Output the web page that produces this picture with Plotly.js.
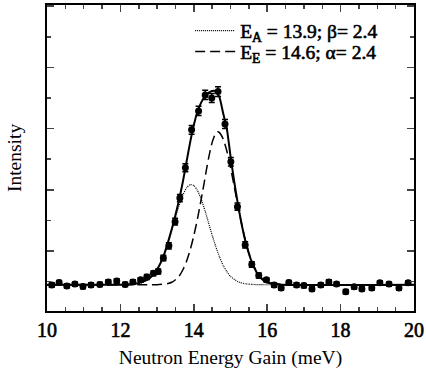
<!DOCTYPE html>
<html>
<head>
<meta charset="utf-8">
<script src="https://cdn.plot.ly/plotly-3.0.1.min.js"></script>
<style>
html,body{margin:0;padding:0;background:#fff;}
#chart{width:426px;height:372px;}
#chart .xtick text, #chart .legendtext, #chart g[class*="legend"] text { stroke: #000; stroke-width: 0.6px; paint-order: stroke; }
</style>
</head>
<body>
<div id="chart"></div>
<script>
// Measured data (neutron energy gain in meV, intensity in arbitrary units)
const dataX = [10.13,10.33,10.54,10.76,10.98,11.20,11.44,11.67,11.90,12.13,12.34,12.55,12.72,12.90,13.03,13.17,13.32,13.49,13.62,13.77,13.94,14.13,14.31,14.49,14.66,14.85,15.01,15.19,15.40,15.58,15.77,15.98,16.19,16.38,16.59,16.80,17.00,17.22,17.46,17.68,17.89,18.14,18.37,18.58,18.85,19.07,19.32,19.59,19.84];
const dataY = [-0.11,-0.03,-0.14,-0.08,-0.16,-0.11,-0.09,-0.01,0.02,-0.09,-0.01,0.06,0.15,0.27,0.33,0.77,1.17,1.96,2.73,3.72,4.96,5.58,6.10,6.00,6.21,5.15,3.92,2.45,1.20,0.56,0.20,0.06,-0.11,-0.21,-0.03,-0.11,-0.13,-0.24,-0.11,-0.01,-0.08,-0.33,-0.17,-0.24,-0.21,-0.04,-0.08,-0.21,-0.04];
const dataErr = [0.07,0.07,0.07,0.07,0.07,0.07,0.07,0.07,0.07,0.07,0.07,0.07,0.08,0.08,0.08,0.09,0.10,0.11,0.12,0.13,0.14,0.15,0.15,0.15,0.16,0.15,0.14,0.12,0.10,0.09,0.08,0.07,0.07,0.07,0.07,0.07,0.07,0.07,0.07,0.07,0.07,0.07,0.07,0.07,0.07,0.07,0.07,0.07,0.07];

// Total fit curve
const fitX = [10.0,12.0,12.2,12.4,12.6,12.8,13.0,13.1,13.2,13.3,13.4,13.5,13.6,13.7,13.8,13.9,14.0,14.1,14.2,14.3,14.4,14.5,14.6,14.7,14.8,14.9,15.0,15.1,15.2,15.3,15.4,15.5,15.6,15.7,15.8,15.9,16.0,16.2,16.4,20.0];
const fitY = [-0.10,-0.10,-0.09,-0.07,-0.01,0.12,0.40,0.62,0.92,1.30,1.72,2.18,2.68,3.25,3.90,4.55,5.12,5.55,5.85,6.05,6.17,6.23,6.22,6.02,5.50,5.00,4.10,3.28,2.55,1.90,1.35,0.92,0.58,0.33,0.15,0.04,-0.03,-0.08,-0.10,-0.10];

// Component A (dotted): E_A = 13.9
const compAX = [10.0,12.0,12.2,12.4,12.6,12.8,13.0,13.1,13.2,13.3,13.4,13.5,13.6,13.7,13.8,13.9,14.0,14.1,14.2,14.3,14.4,14.5,14.6,14.7,14.8,14.9,15.0,15.2,15.4,15.6,15.8,20.0];
const compAY = [-0.10,-0.10,-0.095,-0.08,-0.03,0.11,0.40,0.64,0.93,1.29,1.68,2.10,2.49,2.82,3.06,3.17,3.14,2.98,2.70,2.34,1.93,1.52,1.14,0.81,0.53,0.33,0.17,0.00,-0.07,-0.09,-0.10,-0.10];

// Component E (dashed): E_E = 14.6
const compEX = [10.0,12.8,13.0,13.2,13.3,13.4,13.5,13.6,13.7,13.8,13.9,14.0,14.1,14.2,14.3,14.4,14.5,14.6,14.65,14.7,14.8,14.9,15.0,15.1,15.2,15.3,15.4,15.5,15.6,15.7,15.8,15.9,16.0,16.2,16.4,16.6,20.0];
const compEY = [-0.10,-0.10,-0.10,-0.08,-0.06,-0.02,0.06,0.18,0.38,0.66,1.03,1.50,2.05,2.68,3.35,4.02,4.55,4.86,4.90,4.87,4.66,4.27,3.73,3.12,2.49,1.90,1.38,0.94,0.61,0.36,0.18,0.07,0.00,-0.07,-0.09,-0.10,-0.10];

const legendA = 'E<sub>A</sub> = 13.9; β= 2.4';
const legendE = 'E<sub>E</sub> = 14.6; α= 2.4';
const xTitle = 'Neutron Energy Gain (meV)';
const yTitle = 'Intensity';

const serif = 'Liberation Serif';

const traces = [
  {x: compAX, y: compAY, mode: 'lines', name: legendA, showlegend: true, legend: 'legend',
   line: {color: '#000', width: 1.2, dash: '1px,1px', shape: 'spline', smoothing: 0.6}},
  {x: compEX, y: compEY, mode: 'lines', name: legendE, showlegend: true, legend: 'legend2',
   line: {color: '#000', width: 1.5, dash: '10px,5px', shape: 'spline', smoothing: 0.6}},
  {x: fitX, y: fitY, mode: 'lines', showlegend: false,
   line: {color: '#000', width: 2, shape: 'spline', smoothing: 0.6}},
  {x: dataX, y: dataY, mode: 'markers', showlegend: false,
   marker: {color: '#000', size: 7, symbol: 'circle'},
   error_y: {type: 'data', array: dataErr, visible: true, color: '#000', thickness: 1.5, width: 3}}
];

const legendStyle = {xanchor: 'left', yanchor: 'middle', bgcolor: 'rgba(0,0,0,0)',
  font: {family: serif, size: 19.5, color: '#000'}, itemwidth: 40};

const layout = {
  width: 426, height: 372,
  margin: {l: 47, r: 12, t: 5, b: 61, pad: 0},
  paper_bgcolor: '#fff', plot_bgcolor: '#fff',
  font: {family: serif, color: '#000'},
  showlegend: true,
  legend: Object.assign({x: 0.39, y: 0.915}, legendStyle),
  legend2: Object.assign({x: 0.39, y: 0.847}, legendStyle),
  xaxis: {
    range: [10, 20], dtick: 2, tick0: 10, ticks: 'inside', ticklen: 7, tickwidth: 1.5,
    showline: true, linewidth: 2, linecolor: '#000', mirror: 'ticks', showgrid: false, zeroline: false,
    tickfont: {family: serif, size: 20, color: '#000'},
    minor: {dtick: 0.5, tick0: 10, ticks: 'inside', ticklen: 4, tickwidth: 1.5, showgrid: false},
    title: {text: xTitle, font: {family: serif, size: 19.5, color: '#000'}, standoff: 10}
  },
  yaxis: {
    range: [-0.96, 9.04], dtick: 2, tick0: 1, ticks: 'inside', ticklen: 7, tickwidth: 1.5,
    showline: true, linewidth: 2, linecolor: '#000', mirror: 'ticks', showgrid: false, zeroline: false,
    showticklabels: false,
    minor: {dtick: 1, tick0: 0, ticks: 'inside', ticklen: 4, tickwidth: 1.5, showgrid: false},
    title: {text: yTitle, font: {family: serif, size: 19.5, color: '#000'}, standoff: 18}
  }
};

Plotly.newPlot('chart', traces, layout, {displayModeBar: false, staticPlot: true});
</script>
</body>
</html>
